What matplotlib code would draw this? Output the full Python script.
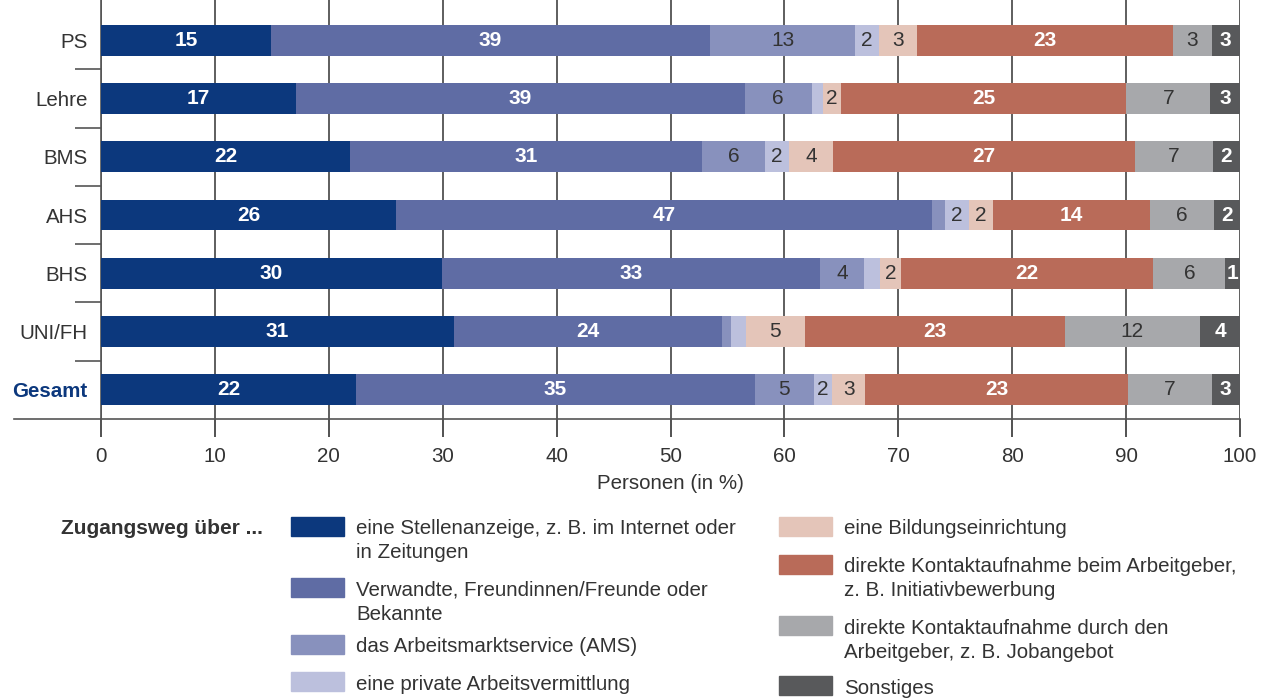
import math
import matplotlib
matplotlib.use("Agg")
import matplotlib.pyplot as plt
from matplotlib.patches import Rectangle

plt.rcParams['font.family'] = ['Liberation Sans', 'DejaVu Sans']

# data (Prozent)
groups = ['PS', 'Lehre', 'BMS', 'AHS', 'BHS', 'UNI/FH', 'Gesamt']
stelle = [14.9, 17.1, 21.9, 25.9, 29.9, 31.0, 22.4]
verwandte = [38.6, 39.4, 30.9, 47.1, 33.2, 23.5, 35.0]
ams = [12.7, 5.9, 5.5, 1.1, 3.9, 0.8, 5.2]
privat = [2.1, 1.0, 2.1, 2.1, 1.4, 1.3, 1.6]
bildung = [3.3, 1.6, 3.9, 2.1, 1.8, 5.2, 2.9]
kontakt = [22.5, 25.0, 26.5, 13.8, 22.2, 22.8, 23.1]
durch = [3.4, 7.4, 6.8, 5.6, 6.3, 11.9, 7.3]
sonst = [2.5, 2.6, 2.4, 2.3, 1.3, 3.5, 2.5]

series = [stelle, verwandte, ams, privat, bildung, kontakt, durch, sonst]
labels = [
    'eine Stellenanzeige, z. B. im Internet oder\nin Zeitungen',
    'Verwandte, Freundinnen/Freunde oder\nBekannte',
    'das Arbeitsmarktservice (AMS)',
    'eine private Arbeitsvermittlung',
    'eine Bildungseinrichtung',
    'direkte Kontaktaufnahme beim Arbeitgeber,\nz. B. Initiativbewerbung',
    'direkte Kontaktaufnahme durch den\nArbeitgeber, z. B. Jobangebot',
    'Sonstiges',
]
colors = ['#0c387d', '#5f6ca4', '#8891bd', '#bcc0dd', '#e4c5b9', '#b96b59', '#a7a8ab', '#58595b']
white_text = [True, True, False, False, False, True, False, True]

dark = '#333333'
navy = '#0c387d'
fs = 14.8
W, H = 1271, 698

fig = plt.figure(figsize=(W / 100, H / 100), dpi=100)
ax = fig.add_axes([101 / W, 1 - 419 / H, (1240 - 101) / W, 419 / H])

y = list(range(len(groups)))
left = [0.0] * len(groups)
for k, vals in enumerate(series):
    ax.barh(y, vals, left=left, height=0.53, color=colors[k], zorder=3)
    for i, v in enumerate(vals):
        if v >= 1.5 or k == len(series) - 1:
            if white_text[k]:
                ax.text(left[i] + v / 2, i, str(math.floor(v + 0.5)), ha='center', va='center',
                        color='white', fontsize=15, fontweight='bold', zorder=4)
            else:
                ax.text(left[i] + v / 2, i, str(math.floor(v + 0.5)), ha='center', va='center',
                        color=dark, fontsize=15, zorder=4)
    left = [a + b for a, b in zip(left, vals)]

ax.set_xlim(0, 100)
ax.set_ylim(6.5, -0.69)
ax.set_xticks(range(0, 101, 10))
ax.set_yticks(y)
ax.set_yticklabels(groups)
ax.set_yticks([i + 0.5 for i in range(len(groups) - 1)], minor=True)
for lab in ax.get_yticklabels():
    lab.set_color(dark)
ax.get_yticklabels()[-1].set_color(navy)
ax.get_yticklabels()[-1].set_fontweight('bold')

ax.tick_params(axis='y', which='major', length=0, pad=9.5, labelsize=fs)
ax.tick_params(axis='y', which='minor', length=19, width=1.2, color='#555555')
ax.tick_params(axis='x', length=13, width=1.2, color='#333333', pad=7,
               labelsize=fs, labelcolor=dark)
ax.xaxis.grid(True, color='#333333', linewidth=1.1, zorder=1)
ax.set_axisbelow(True)
for s in ['top', 'right']:
    ax.spines[s].set_visible(False)
for s in ['left', 'bottom']:
    ax.spines[s].set_color('#555555')
    ax.spines[s].set_linewidth(1.2)
# bottom line runs out to the left under the labels
ax.plot([-87 / 1139, 0], [0, 0], transform=ax.transAxes, color='#555555',
        linewidth=1.2, clip_on=False)
ax.set_xlabel('Personen (in %)', fontsize=fs, color=dark, labelpad=6)

# legend drawn in pixel coordinates
lax = fig.add_axes([0, 0, 1, 1])
lax.set_xlim(0, W)
lax.set_ylim(H, 0)
lax.axis('off')
lax.text(61, 528, 'Zugangsweg über ...', fontsize=15, fontweight='bold',
         color=dark, va='center', ha='left')

# (patch x, patch top, patch width)
slots = [(291, 517, 53), (291, 578, 53), (291, 635, 53), (291, 672, 53),
         (779, 517, 53), (779, 555, 53), (779, 616, 53), (779, 676, 53)]
for k, (px, pt, pw) in enumerate(slots):
    lax.add_patch(Rectangle((px, pt), pw, 19, color=colors[k]))
    tx = px + pw + 12
    for j, line in enumerate(labels[k].split('\n')):
        lax.text(tx, pt + 12 + j * 24, line, fontsize=fs, color=dark,
                 va='center', ha='left')

fig.savefig('out.png', dpi=100)
